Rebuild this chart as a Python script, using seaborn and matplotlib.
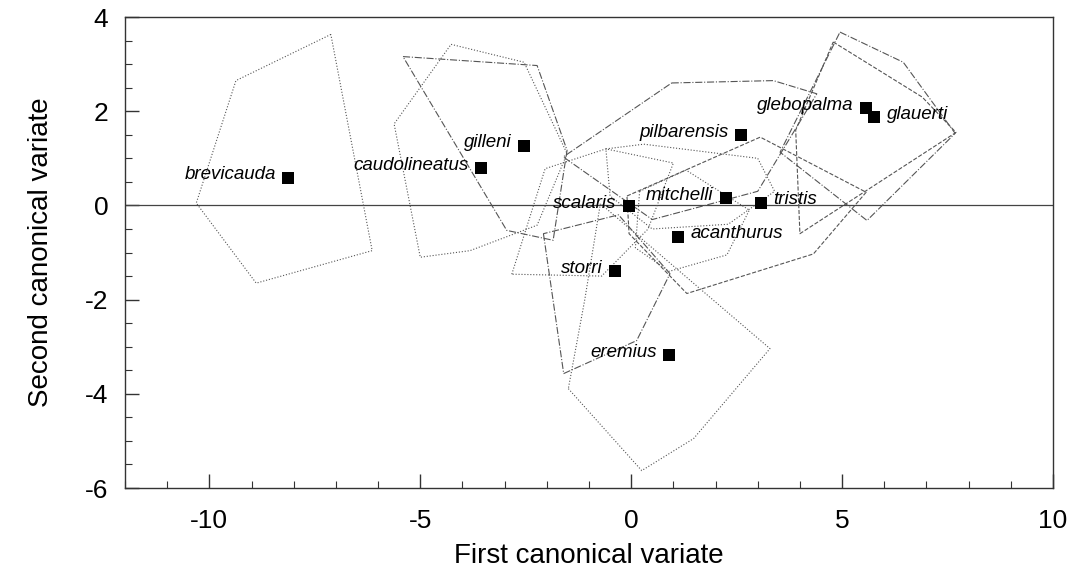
import numpy as np
import pandas as pd
import matplotlib
matplotlib.use("Agg")
import matplotlib.pyplot as plt
import seaborn as sns
from matplotlib.ticker import MultipleLocator

# ---- data -------------------------------------------------------------
species = ["brevicauda", "caudolineatus", "gilleni", "scalaris", "mitchelli",
           "tristis", "pilbarensis", "glebopalma", "glauerti", "acanthurus",
           "storri", "eremius"]
cv1 = [-8.13, -3.55, -2.54, -0.05, 2.25, 3.08, 2.61, 5.57, 5.76, 1.11, -0.38, 0.90]
cv2 = [0.59, 0.79, 1.27, -0.02, 0.15, 0.06, 1.49, 2.06, 1.87, -0.66, -1.40, -3.18]
label_side = ["left", "left", "left", "left", "left", "right", "left", "left",
              "right", "right", "left", "left"]

# convex hulls (vertices)
hull_brevicauda_x = [-7.12, -9.37, -10.31, -8.89, -6.14]
hull_brevicauda_y = [3.63, 2.65, 0.05, -1.65, -0.96]
hull_caudolineatus_x = [-4.27, -2.54, -1.52, -2.23, -3.82, -5.00, -5.62]
hull_caudolineatus_y = [3.42, 3.04, 1.10, -0.42, -0.96, -1.10, 1.73]
hull_gilleni_x = [-5.41, -2.23, -1.52, -1.85, -2.95]
hull_gilleni_y = [3.16, 2.97, 1.17, -0.74, -0.53]
hull_scalaris_x = [-2.83, -2.04, -0.60, 1.00, 0.40, -0.70]
hull_scalaris_y = [-1.46, 0.78, 1.20, 0.90, -0.50, -1.50]
hull_mitchelli_x = [-0.60, 0.30, 3.00, 3.40, 2.30, 0.50, -0.50]
hull_mitchelli_y = [1.20, 1.30, 1.00, 0.30, -0.40, -0.50, 0.20]
hull_tristis_x = [-0.10, 3.06, 5.57, 4.32, 1.32, -0.05]
hull_tristis_y = [0.20, 1.45, 0.28, -1.03, -1.87, -0.60]
hull_pilbarensis_x = [0.96, 3.37, 4.40, 3.00, 0.50, -1.61]
hull_pilbarensis_y = [2.60, 2.65, 2.37, 0.30, -0.30, 1.03]
hull_glebopalma_x = [4.95, 6.45, 7.68, 5.59, 3.53]
hull_glebopalma_y = [3.68, 3.04, 1.53, -0.32, 1.13]
hull_glauerti_x = [4.79, 6.90, 7.70, 4.00, 3.90]
hull_glauerti_y = [3.47, 2.30, 1.55, -0.60, 1.60]
hull_acanthurus_x = [0.20, 1.30, 2.80, 2.27, 0.90, 0.10]
hull_acanthurus_y = [0.30, 0.75, -0.10, -1.05, -1.40, -0.90]
hull_storri_x = [-2.08, -1.60, 0.13, 0.92, -0.30]
hull_storri_y = [-0.60, -3.57, -2.87, -1.45, -0.20]
hull_eremius_x = [-1.49, 0.25, 1.48, 3.29, -0.73, -1.10]
hull_eremius_y = [-3.89, -5.63, -4.95, -3.04, 0.04, -2.00]

hulls = [
    (hull_brevicauda_x, hull_brevicauda_y, ":"),
    (hull_caudolineatus_x, hull_caudolineatus_y, ":"),
    (hull_gilleni_x, hull_gilleni_y, "-."),
    (hull_scalaris_x, hull_scalaris_y, ":"),
    (hull_mitchelli_x, hull_mitchelli_y, ":"),
    (hull_tristis_x, hull_tristis_y, "--"),
    (hull_pilbarensis_x, hull_pilbarensis_y, "-."),
    (hull_glebopalma_x, hull_glebopalma_y, "-."),
    (hull_glauerti_x, hull_glauerti_y, "--"),
    (hull_acanthurus_x, hull_acanthurus_y, ":"),
    (hull_storri_x, hull_storri_y, "-."),
    (hull_eremius_x, hull_eremius_y, ":"),
]

# ---- figure -------------------------------------------------------------
sns.set_theme(style="ticks")
plt.rcParams["font.family"] = ["Liberation Sans", "DejaVu Sans"]
plt.rcParams["axes.unicode_minus"] = False

fig = plt.figure(figsize=(10.71, 5.77), dpi=100)
ax = fig.add_axes([0.1167, 0.1542, 0.8665, 0.8163])

for hx, hy, ls in hulls:
    px = list(hx) + [hx[0]]
    py = list(hy) + [hy[0]]
    d = pd.DataFrame({"x": px, "y": py})
    sns.lineplot(data=d, x="x", y="y", sort=False, estimator=None, ax=ax,
                 color="#555555", linewidth=0.8, linestyle=ls)

ax.axhline(0, color="#444444", linewidth=0.9, zorder=1)

cent = pd.DataFrame({"cv1": cv1, "cv2": cv2, "species": species})
sns.scatterplot(data=cent, x="cv1", y="cv2", marker="s", s=85, color="black",
                edgecolor="black", linewidth=0, ax=ax, zorder=5)

for name, x, y, side in zip(species, cv1, cv2, label_side):
    if side == "left":
        ax.annotate(name, (x, y), xytext=(-9, 2), textcoords="offset points",
                    ha="right", va="center", fontsize=13.5, style="italic",
                    color="black", zorder=6)
    else:
        ax.annotate(name, (x, y), xytext=(9, 2), textcoords="offset points",
                    ha="left", va="center", fontsize=13.5, style="italic",
                    color="black", zorder=6)

ax.set_xlim(-12, 10)
ax.set_ylim(-6, 4)
ax.xaxis.set_major_locator(MultipleLocator(5))
ax.xaxis.set_minor_locator(MultipleLocator(1))
ax.yaxis.set_major_locator(MultipleLocator(2))
ax.yaxis.set_minor_locator(MultipleLocator(0.5))
ax.tick_params(which="major", direction="in", length=10, width=1, labelsize=19,
               color="#333333", labelcolor="black", pad=12)
ax.tick_params(axis="x", which="major", pad=15)
ax.tick_params(which="minor", direction="in", length=5, width=0.8, color="#333333")
for sp in ax.spines.values():
    sp.set_color("#333333")
    sp.set_linewidth(1.0)

ax.set_xlabel("First canonical variate", fontsize=20, labelpad=7, color="black")
ax.set_ylabel("Second canonical variate", fontsize=20, labelpad=22, color="black")

fig.savefig("out.png", dpi=100)
